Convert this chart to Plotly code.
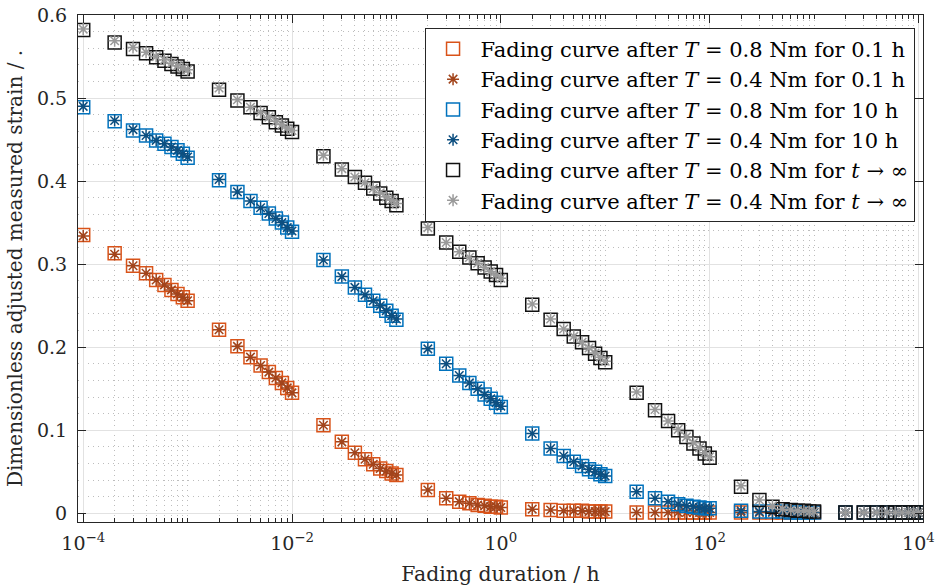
import plotly.graph_objects as go

# Fading duration in hours (log axis)
duration_h = [
    1e-4, 2e-4, 3e-4, 4e-4, 5e-4, 6e-4, 7e-4, 8e-4, 9e-4,
    1e-3, 2e-3, 3e-3, 4e-3, 5e-3, 6e-3, 7e-3, 8e-3, 9e-3,
    1e-2, 2e-2, 3e-2, 4e-2, 5e-2, 6e-2, 7e-2, 8e-2, 9e-2,
    1e-1, 2e-1, 3e-1, 4e-1, 5e-1, 6e-1, 7e-1, 8e-1, 9e-1,
    1e0, 2e0, 3e0, 4e0, 5e0, 6e0, 7e0, 8e0, 9e0,
    1e1, 2e1, 3e1, 4e1, 5e1, 6e1, 7e1, 8e1, 9e1,
    1e2, 2e2, 3e2, 4e2, 5e2, 6e2, 7e2, 8e2, 9e2,
    1e3, 2e3, 3e3, 4e3, 5e3, 6e3, 7e3, 8e3, 9e3,
    1e4,
]

strain_08Nm_01h = [
    0.335, 0.313, 0.298, 0.289, 0.281, 0.275, 0.269, 0.264, 0.260,
    0.256, 0.221, 0.201, 0.188, 0.178, 0.170, 0.163, 0.157, 0.151,
    0.145, 0.106, 0.086, 0.073, 0.065, 0.059, 0.054, 0.051, 0.048,
    0.046, 0.028, 0.018, 0.014, 0.012, 0.010, 0.009, 0.008, 0.008,
    0.007, 0.005, 0.004, 0.003, 0.003, 0.003, 0.002, 0.002, 0.002,
    0.002, 0.001, 0.001, 0.001, 0.001, 0.001, 0.001, 0.001, 0.001,
    0.001, 0.001, 0.001, 0.001, 0.001, 0.001, 0.001, 0.001, 0.001,
    0.001, 0.001, 0.001, 0.001, 0.001, 0.001, 0.001, 0.001, 0.001,
    0.001,
]
strain_04Nm_01h = [
    0.334, 0.312, 0.298, 0.289, 0.281, 0.275, 0.269, 0.264, 0.260,
    0.256, 0.221, 0.201, 0.188, 0.178, 0.170, 0.163, 0.157, 0.151,
    0.145, 0.106, 0.086, 0.073, 0.065, 0.059, 0.054, 0.051, 0.048,
    0.046, 0.028, 0.018, 0.014, 0.012, 0.010, 0.009, 0.008, 0.008,
    0.007, 0.005, 0.004, 0.003, 0.003, 0.003, 0.002, 0.002, 0.002,
    0.002, 0.001, 0.001, 0.001, 0.001, 0.001, 0.001, 0.001, 0.001,
    0.001, 0.001, 0.001, 0.001, 0.001, 0.001, 0.001, 0.001, 0.001,
    0.001, 0.001, 0.001, 0.001, 0.001, 0.001, 0.001, 0.001, 0.001,
    0.001,
]
strain_08Nm_10h = [
    0.489, 0.472, 0.461, 0.455, 0.449, 0.445, 0.441, 0.437, 0.433,
    0.428, 0.401, 0.387, 0.376, 0.368, 0.361, 0.355, 0.350, 0.344,
    0.339, 0.305, 0.285, 0.272, 0.263, 0.256, 0.250, 0.244, 0.238,
    0.233, 0.198, 0.180, 0.166, 0.157, 0.150, 0.143, 0.138, 0.133,
    0.128, 0.096, 0.078, 0.069, 0.062, 0.057, 0.053, 0.050, 0.047,
    0.045, 0.026, 0.018, 0.014, 0.011, 0.009, 0.008, 0.007, 0.006,
    0.006, 0.003, 0.002, 0.002, 0.002, 0.001, 0.001, 0.001, 0.001,
    0.001, 0.001, 0.001, 0.001, 0.001, 0.001, 0.001, 0.001, 0.001,
    0.001,
]
strain_04Nm_10h = [
    0.490, 0.473, 0.462, 0.455, 0.449, 0.445, 0.441, 0.437, 0.433,
    0.429, 0.402, 0.387, 0.376, 0.368, 0.361, 0.355, 0.350, 0.344,
    0.340, 0.305, 0.285, 0.272, 0.263, 0.256, 0.250, 0.244, 0.238,
    0.234, 0.198, 0.180, 0.166, 0.157, 0.150, 0.143, 0.138, 0.133,
    0.129, 0.096, 0.078, 0.069, 0.062, 0.057, 0.053, 0.050, 0.047,
    0.045, 0.026, 0.018, 0.014, 0.011, 0.009, 0.008, 0.007, 0.006,
    0.006, 0.003, 0.002, 0.002, 0.002, 0.001, 0.001, 0.001, 0.001,
    0.001, 0.001, 0.001, 0.001, 0.001, 0.001, 0.001, 0.001, 0.001,
    0.001,
]
strain_08Nm_inf = [
    0.582, 0.567, 0.559, 0.554, 0.549, 0.545, 0.541, 0.538, 0.535,
    0.532, 0.510, 0.497, 0.489, 0.482, 0.477, 0.471, 0.467, 0.463,
    0.459, 0.430, 0.414, 0.405, 0.398, 0.391, 0.385, 0.380, 0.376,
    0.371, 0.343, 0.326, 0.315, 0.308, 0.301, 0.296, 0.291, 0.287,
    0.281, 0.251, 0.233, 0.222, 0.213, 0.206, 0.199, 0.192, 0.187,
    0.182, 0.145, 0.124, 0.111, 0.100, 0.092, 0.084, 0.078, 0.072,
    0.067, 0.032, 0.016, 0.008, 0.005, 0.004, 0.003, 0.003, 0.002,
    0.002, 0.001, 0.001, 0.001, 0.001, 0.001, 0.001, 0.001, 0.001,
    0.001,
]
strain_04Nm_inf = [
    0.583, 0.569, 0.561, 0.555, 0.550, 0.546, 0.542, 0.539, 0.536,
    0.534, 0.512, 0.498, 0.489, 0.483, 0.477, 0.472, 0.468, 0.464,
    0.461, 0.431, 0.415, 0.405, 0.398, 0.391, 0.386, 0.381, 0.377,
    0.373, 0.344, 0.326, 0.315, 0.308, 0.301, 0.296, 0.291, 0.287,
    0.283, 0.252, 0.234, 0.222, 0.213, 0.206, 0.199, 0.193, 0.188,
    0.183, 0.146, 0.125, 0.111, 0.101, 0.092, 0.085, 0.079, 0.073,
    0.068, 0.033, 0.016, 0.009, 0.005, 0.004, 0.003, 0.003, 0.002,
    0.002, 0.001, 0.001, 0.001, 0.001, 0.001, 0.001, 0.001, 0.001,
    0.001,
]

series_names = [
    "Fading curve after <i>T</i> = 0.8 Nm for 0.1 h",
    "Fading curve after <i>T</i> = 0.4 Nm for 0.1 h",
    "Fading curve after <i>T</i> = 0.8 Nm for 10 h",
    "Fading curve after <i>T</i> = 0.4 Nm for 10 h",
    "Fading curve after <i>T</i> = 0.8 Nm for <i>t</i> \u2192 \u221e",
    "Fading curve after <i>T</i> = 0.4 Nm for <i>t</i> \u2192 \u221e",
]
series_values = [strain_08Nm_01h, strain_04Nm_01h, strain_08Nm_10h,
                 strain_04Nm_10h, strain_08Nm_inf, strain_04Nm_inf]
series_colors = ["#D95319", "#A2441B", "#0072BD", "#0D4F80", "#111111", "#9A9A9A"]
series_symbols = ["square-open", "asterisk-open", "square-open",
                  "asterisk-open", "square-open", "asterisk-open"]
series_sizes = [13, 10, 13, 10, 13, 10]

x_major_vals = [1e-4, 1e-2, 1e0, 1e2, 1e4]
x_major_text = ["10<sup>\u22124</sup>", "10<sup>\u22122</sup>", "10<sup>0</sup>",
                "10<sup>2</sup>", "10<sup>4</sup>"]
x_minor_vals = [v for v in duration_h if v not in x_major_vals]
y_major_vals = [0, 0.1, 0.2, 0.3, 0.4, 0.5, 0.6]
y_major_text = ["0", "0.1", "0.2", "0.3", "0.4", "0.5", "0.6"]

FONT = "DejaVu Serif"
AX = "#262626"

fig = go.Figure()
for name, vals, col, sym, sz in zip(series_names, series_values, series_colors,
                                     series_symbols, series_sizes):
    fig.add_trace(go.Scatter(
        x=duration_h, y=vals, mode="markers", name=name,
        marker=dict(symbol=sym, size=sz, color=col,
                    line=dict(color=col, width=1.5)),
    ))

fig.update_layout(
    width=936, height=586,
    margin=dict(l=78, r=13, t=15, b=64, autoexpand=False),
    paper_bgcolor="white", plot_bgcolor="white",
    font=dict(family=FONT, size=19, color="#262626"),
    showlegend=True,
    legend=dict(
        x=0.99, y=0.975, xanchor="right", yanchor="top",
        bgcolor="white", bordercolor=AX, borderwidth=1,
        font=dict(family=FONT, size=21, color="#000000"),
        tracegroupgap=0, itemwidth=45,
    ),
)
fig.update_xaxes(
    type="log", range=[-4.05, 4.044], automargin=False,
    tickvals=x_major_vals, ticktext=x_major_text,
    ticks="inside", ticklen=8, tickwidth=1, tickcolor=AX,
    showline=True, linecolor=AX, linewidth=1, mirror="ticks",
    showgrid=True, gridcolor="#E2E2E2", gridwidth=1, zeroline=False,
    tickfont=dict(family=FONT, size=19, color="#262626"),
    ticklabelstandoff=4, ticklabeloverflow="allow",
    minor=dict(tickvals=x_minor_vals, ticks="inside", ticklen=4, tickcolor=AX,
               showgrid=True, gridcolor="#BDBDBD", griddash="1px,4px", gridwidth=1),
    title=dict(text="Fading duration / h", standoff=14,
               font=dict(family=FONT, size=20.4, color="#262626")),
)
fig.update_yaxes(
    range=[-0.0105, 0.6], automargin=False,
    tickvals=y_major_vals, ticktext=y_major_text,
    ticks="inside", ticklen=8, tickwidth=1, tickcolor=AX,
    showline=True, linecolor=AX, linewidth=1, mirror="ticks",
    showgrid=True, gridcolor="#E2E2E2", gridwidth=1, zeroline=False,
    tickfont=dict(family=FONT, size=19, color="#262626"),
    ticklabelstandoff=6,
    minor=dict(dtick=0.02, ticks="", showgrid=True, gridcolor="#BDBDBD",
               griddash="1px,4px", gridwidth=1),
    title=dict(text="Dimensionless adjusted measured strain / .", standoff=8,
               font=dict(family=FONT, size=20, color="#262626")),
)

fig.write_html("out.html")
